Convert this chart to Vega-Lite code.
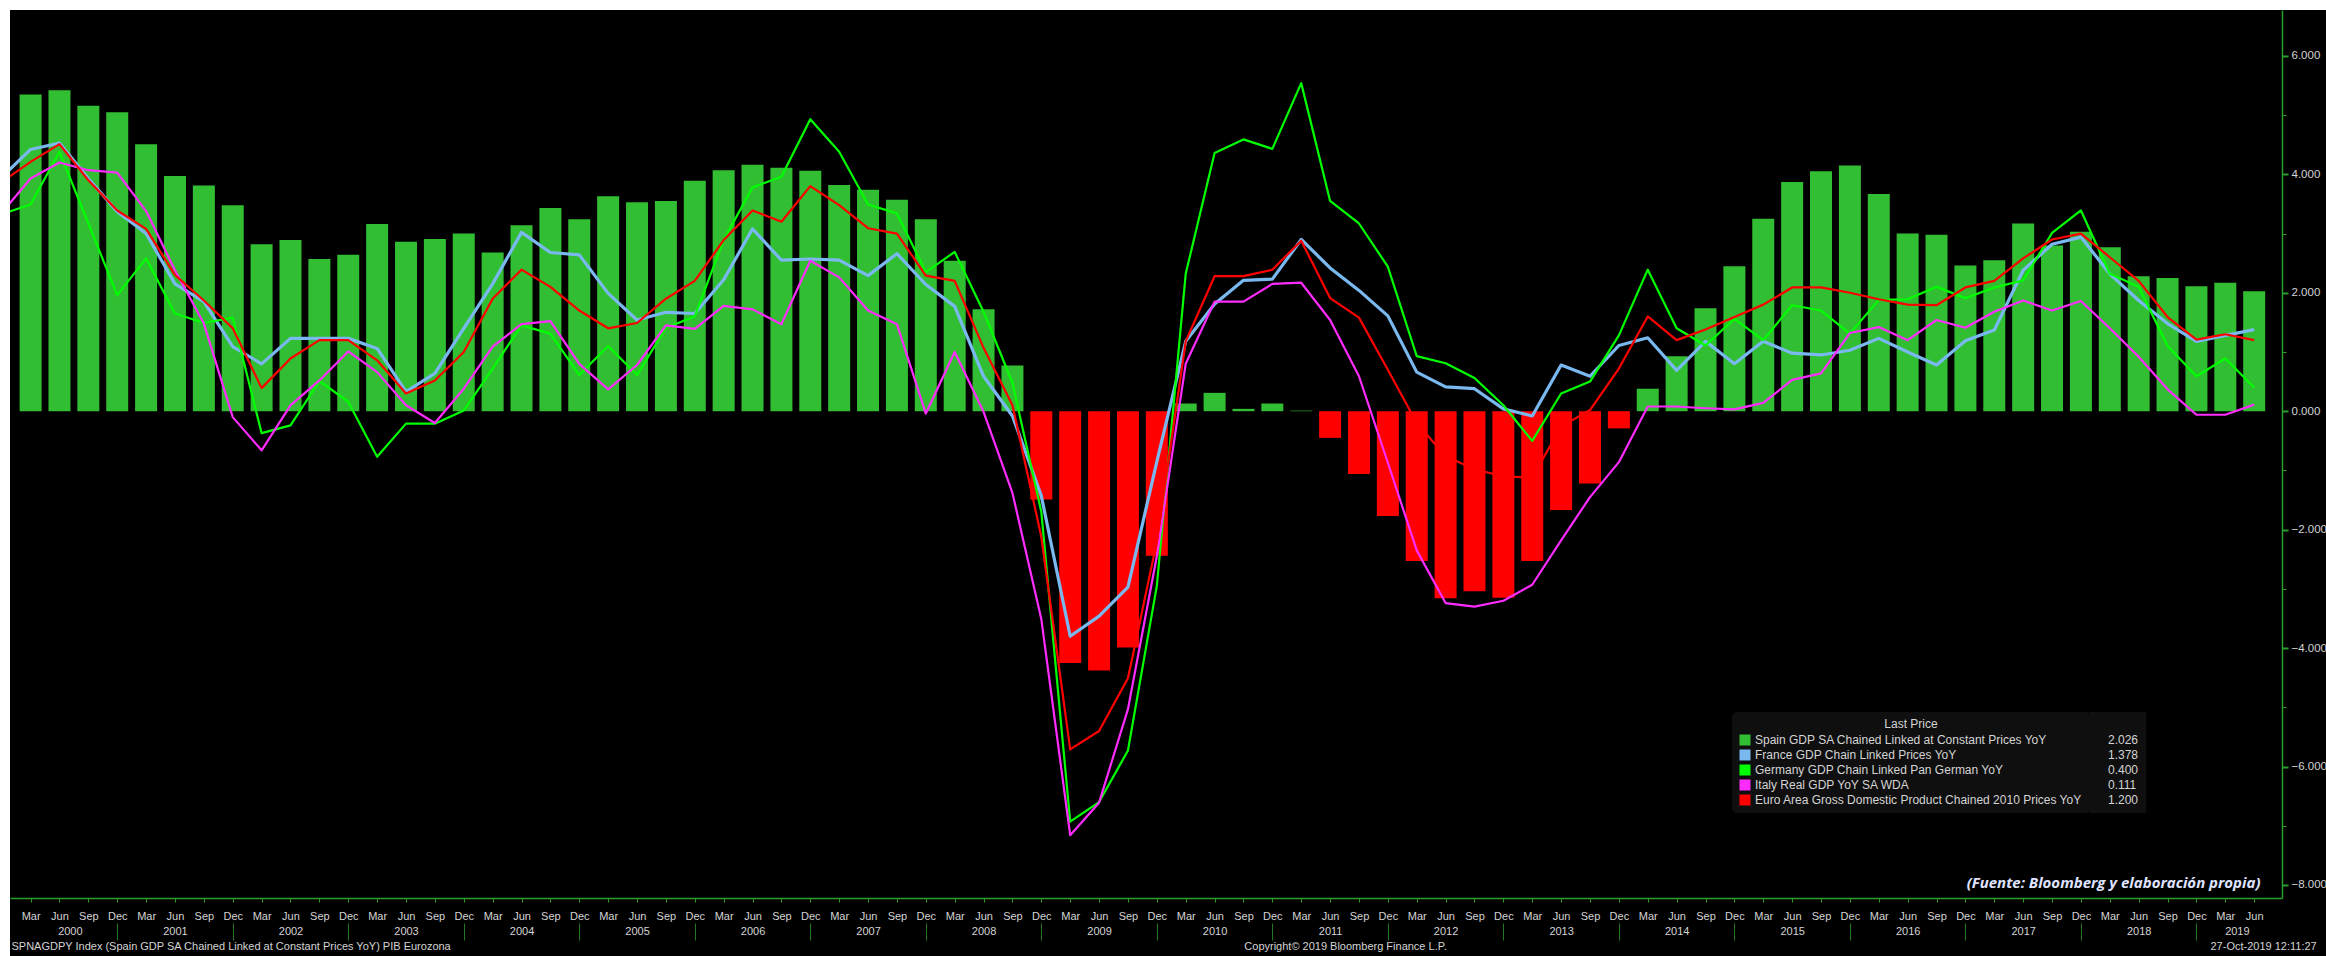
{
  "$schema": "https://vega.github.io/schema/vega-lite/v6.json",
  "width": 2316,
  "height": 946,
  "autosize": {"type": "none"},
  "padding": {"left": 10, "top": 10, "right": 0, "bottom": 0},
  "background": "#ffffff",
  "view": {"fill": "#000000", "stroke": null, "cursor": "default"},
  "config": {
    "view": {"stroke": null},
    "axis": {
      "grid": false,
      "labelFont": "Liberation Sans",
      "titleFont": "Liberation Sans",
      "labelFontSize": 11,
      "titleFontSize": 11,
      "titleFontWeight": "normal",
      "labelColor": "#d4d4d4",
      "titleColor": "#d4d4d4",
      "domainColor": "#2a9d2a",
      "tickColor": "#2a9d2a",
      "labelFlush": false,
      "labelOverlap": false,
      "labelBound": false
    }
  },
  "datasets": {
    "main": [
      {"t": 2000, "fr": 3.95, "de": 3.33, "it": 3.35, "ea": 3.87},
      {"t": 2000.25, "es": 5.35, "fr": 4.42, "de": 3.49, "it": 3.93, "ea": 4.21},
      {"t": 2000.5, "es": 5.42, "fr": 4.53, "de": 4.38, "it": 4.20, "ea": 4.51},
      {"t": 2000.75, "es": 5.16, "fr": 3.93, "de": 3.17, "it": 4.07, "ea": 3.90},
      {"t": 2001, "es": 5.05, "fr": 3.37, "de": 1.96, "it": 4.03, "ea": 3.39},
      {"t": 2001.25, "es": 4.51, "fr": 3.00, "de": 2.58, "it": 3.38, "ea": 3.08},
      {"t": 2001.5, "es": 3.97, "fr": 2.15, "de": 1.65, "it": 2.38, "ea": 2.30},
      {"t": 2001.75, "es": 3.81, "fr": 1.85, "de": 1.49, "it": 1.48, "ea": 1.87},
      {"t": 2002, "es": 3.48, "fr": 1.09, "de": 1.58, "it": -0.10, "ea": 1.40},
      {"t": 2002.25, "es": 2.82, "fr": 0.80, "de": -0.37, "it": -0.66, "ea": 0.39},
      {"t": 2002.5, "es": 2.89, "fr": 1.23, "de": -0.24, "it": 0.10, "ea": 0.89},
      {"t": 2002.75, "es": 2.57, "fr": 1.23, "de": 0.51, "it": 0.52, "ea": 1.20},
      {"t": 2003, "es": 2.64, "fr": 1.23, "de": 0.16, "it": 1.01, "ea": 1.20},
      {"t": 2003.25, "es": 3.16, "fr": 1.06, "de": -0.77, "it": 0.66, "ea": 0.86},
      {"t": 2003.5, "es": 2.86, "fr": 0.33, "de": -0.21, "it": 0.10, "ea": 0.30},
      {"t": 2003.75, "es": 2.91, "fr": 0.64, "de": -0.21, "it": -0.20, "ea": 0.52},
      {"t": 2004, "es": 3.00, "fr": 1.40, "de": 0.01, "it": 0.38, "ea": 1.00},
      {"t": 2004.25, "es": 2.68, "fr": 2.15, "de": 0.72, "it": 1.09, "ea": 1.90},
      {"t": 2004.5, "es": 3.14, "fr": 3.02, "de": 1.45, "it": 1.47, "ea": 2.39},
      {"t": 2004.75, "es": 3.43, "fr": 2.68, "de": 1.31, "it": 1.52, "ea": 2.10},
      {"t": 2005, "es": 3.24, "fr": 2.64, "de": 0.61, "it": 0.80, "ea": 1.70},
      {"t": 2005.25, "es": 3.63, "fr": 1.99, "de": 1.10, "it": 0.37, "ea": 1.40},
      {"t": 2005.5, "es": 3.53, "fr": 1.54, "de": 0.61, "it": 0.78, "ea": 1.49},
      {"t": 2005.75, "es": 3.55, "fr": 1.67, "de": 1.41, "it": 1.45, "ea": 1.90},
      {"t": 2006, "es": 3.89, "fr": 1.65, "de": 1.60, "it": 1.39, "ea": 2.20},
      {"t": 2006.25, "es": 4.07, "fr": 2.22, "de": 2.89, "it": 1.78, "ea": 2.89},
      {"t": 2006.5, "es": 4.16, "fr": 3.08, "de": 3.78, "it": 1.72, "ea": 3.39},
      {"t": 2006.75, "es": 4.11, "fr": 2.55, "de": 3.96, "it": 1.47, "ea": 3.20},
      {"t": 2007, "es": 4.06, "fr": 2.57, "de": 4.93, "it": 2.54, "ea": 3.80},
      {"t": 2007.25, "es": 3.82, "fr": 2.55, "de": 4.38, "it": 2.26, "ea": 3.48},
      {"t": 2007.5, "es": 3.74, "fr": 2.29, "de": 3.49, "it": 1.70, "ea": 3.09},
      {"t": 2007.75, "es": 3.57, "fr": 2.66, "de": 3.34, "it": 1.47, "ea": 3.00},
      {"t": 2008, "es": 3.24, "fr": 2.14, "de": 2.35, "it": -0.04, "ea": 2.29},
      {"t": 2008.25, "es": 2.54, "fr": 1.77, "de": 2.69, "it": 1.00, "ea": 2.20},
      {"t": 2008.5, "es": 1.72, "fr": 0.59, "de": 1.68, "it": -0.01, "ea": 1.07},
      {"t": 2008.75, "es": 0.77, "fr": -0.08, "de": 0.48, "it": -1.38, "ea": 0.10},
      {"t": 2009, "es": -1.49, "fr": -1.43, "de": -1.70, "it": -3.51, "ea": -2.12},
      {"t": 2009.25, "es": -4.25, "fr": -3.80, "de": -6.93, "it": -7.16, "ea": -5.71},
      {"t": 2009.5, "es": -4.38, "fr": -3.46, "de": -6.60, "it": -6.61, "ea": -5.40},
      {"t": 2009.75, "es": -3.99, "fr": -2.97, "de": -5.73, "it": -5.03, "ea": -4.51},
      {"t": 2010, "es": -2.44, "fr": -0.85, "de": -2.95, "it": -2.45, "ea": -2.20},
      {"t": 2010.25, "es": 0.13, "fr": 1.18, "de": 2.32, "it": 0.80, "ea": 1.18},
      {"t": 2010.5, "es": 0.31, "fr": 1.81, "de": 4.36, "it": 1.85, "ea": 2.28},
      {"t": 2010.75, "es": 0.04, "fr": 2.21, "de": 4.59, "it": 1.85, "ea": 2.28},
      {"t": 2011, "es": 0.13, "fr": 2.23, "de": 4.43, "it": 2.15, "ea": 2.39},
      {"t": 2011.25, "es": 0.01, "fr": 2.90, "de": 5.54, "it": 2.17, "ea": 2.88},
      {"t": 2011.5, "es": -0.45, "fr": 2.42, "de": 3.55, "it": 1.54, "ea": 1.91},
      {"t": 2011.75, "es": -1.06, "fr": 2.04, "de": 3.17, "it": 0.59, "ea": 1.58},
      {"t": 2012, "es": -1.77, "fr": 1.61, "de": 2.44, "it": -0.87, "ea": 0.70},
      {"t": 2012.25, "es": -2.53, "fr": 0.66, "de": 0.93, "it": -2.35, "ea": -0.20},
      {"t": 2012.5, "es": -3.16, "fr": 0.41, "de": 0.81, "it": -3.24, "ea": -0.76},
      {"t": 2012.75, "es": -3.04, "fr": 0.38, "de": 0.56, "it": -3.30, "ea": -0.98},
      {"t": 2013, "es": -3.15, "fr": 0.04, "de": 0.10, "it": -3.20, "ea": -1.10},
      {"t": 2013.25, "es": -2.53, "fr": -0.08, "de": -0.50, "it": -2.93, "ea": -1.12},
      {"t": 2013.5, "es": -1.67, "fr": 0.78, "de": 0.30, "it": -2.18, "ea": -0.26},
      {"t": 2013.75, "es": -1.22, "fr": 0.59, "de": 0.50, "it": -1.45, "ea": 0.02},
      {"t": 2014, "es": -0.29, "fr": 1.11, "de": 1.28, "it": -0.86, "ea": 0.72},
      {"t": 2014.25, "es": 0.38, "fr": 1.24, "de": 2.39, "it": 0.08, "ea": 1.60},
      {"t": 2014.5, "es": 0.93, "fr": 0.69, "de": 1.40, "it": 0.08, "ea": 1.20},
      {"t": 2014.75, "es": 1.74, "fr": 1.18, "de": 1.11, "it": 0.05, "ea": 1.38},
      {"t": 2015, "es": 2.45, "fr": 0.80, "de": 1.56, "it": 0.03, "ea": 1.59},
      {"t": 2015.25, "es": 3.25, "fr": 1.18, "de": 1.20, "it": 0.14, "ea": 1.80},
      {"t": 2015.5, "es": 3.87, "fr": 0.98, "de": 1.79, "it": 0.53, "ea": 2.09},
      {"t": 2015.75, "es": 4.05, "fr": 0.95, "de": 1.70, "it": 0.64, "ea": 2.09},
      {"t": 2016, "es": 4.15, "fr": 1.03, "de": 1.31, "it": 1.32, "ea": 2.00},
      {"t": 2016.25, "es": 3.67, "fr": 1.23, "de": 1.88, "it": 1.42, "ea": 1.89},
      {"t": 2016.5, "es": 3.00, "fr": 1.00, "de": 1.89, "it": 1.20, "ea": 1.80},
      {"t": 2016.75, "es": 2.98, "fr": 0.78, "de": 2.10, "it": 1.54, "ea": 1.79},
      {"t": 2017, "es": 2.46, "fr": 1.19, "de": 1.91, "it": 1.41, "ea": 2.09},
      {"t": 2017.25, "es": 2.55, "fr": 1.37, "de": 2.09, "it": 1.68, "ea": 2.20},
      {"t": 2017.5, "es": 3.17, "fr": 2.38, "de": 2.21, "it": 1.87, "ea": 2.58},
      {"t": 2017.75, "es": 2.80, "fr": 2.82, "de": 3.01, "it": 1.70, "ea": 2.90},
      {"t": 2018, "es": 3.03, "fr": 2.94, "de": 3.39, "it": 1.86, "ea": 3.00},
      {"t": 2018.25, "es": 2.77, "fr": 2.32, "de": 2.32, "it": 1.40, "ea": 2.60},
      {"t": 2018.5, "es": 2.28, "fr": 1.87, "de": 2.10, "it": 0.92, "ea": 2.20},
      {"t": 2018.75, "es": 2.25, "fr": 1.48, "de": 1.10, "it": 0.37, "ea": 1.59},
      {"t": 2019, "es": 2.11, "fr": 1.18, "de": 0.59, "it": -0.06, "ea": 1.21},
      {"t": 2019.25, "es": 2.17, "fr": 1.28, "de": 0.89, "it": -0.06, "ea": 1.30},
      {"t": 2019.5, "es": 2.026, "fr": 1.378, "de": 0.400, "it": 0.111, "ea": 1.200}
    ],
    "last": [
      {"last": "2.026"},
      {"last": "1.378"},
      {"last": "0.400"},
      {"last": "0.111"},
      {"last": "1.200"}
    ]
  },
  "data": {"name": "main"},
  "layer": [
    {
      "transform": [{"filter": "isValid(datum.es)"}],
      "mark": {"type": "bar", "width": 22},
      "encoding": {
        "x": {
          "field": "t", "type": "quantitative",
          "scale": {"domain": [2000.115, 2019.6975], "range": [0, 2272], "nice": false, "zero": false},
          "axis": {
            "orient": "bottom", "offset": -58,
            "values": [2000.25,2000.5,2000.75,2001,2001.25,2001.5,2001.75,2002,2002.25,2002.5,2002.75,2003,2003.25,2003.5,2003.75,2004,2004.25,2004.5,2004.75,2005,2005.25,2005.5,2005.75,2006,2006.25,2006.5,2006.75,2007,2007.25,2007.5,2007.75,2008,2008.25,2008.5,2008.75,2009,2009.25,2009.5,2009.75,2010,2010.25,2010.5,2010.75,2011,2011.25,2011.5,2011.75,2012,2012.25,2012.5,2012.75,2013,2013.25,2013.5,2013.75,2014,2014.25,2014.5,2014.75,2015,2015.25,2015.5,2015.75,2016,2016.25,2016.5,2016.75,2017,2017.25,2017.5,2017.75,2018,2018.25,2018.5,2018.75,2019,2019.25,2019.5],
            "labelExpr": "['Dec','Mar','Jun','Sep'][round(datum.value*4) % 4]",
            "tickSize": 4, "labelPadding": 8, "domainWidth": 1.5,
            "title": "SPNAGDPY Index (Spain GDP SA Chained Linked at Constant Prices YoY) PIB Eurozona",
            "titleX": 1, "titleY": 48, "titleAlign": "left", "titleBaseline": "middle", "titleAnchor": "start"
          }
        },
        "y": {
          "field": "es", "type": "quantitative",
          "scale": {"domain": [-8.22, 6.775], "range": [888, 0], "nice": false, "zero": false},
          "axis": {
            "orient": "right", "offset": -44,
            "values": [-8, -6, -4, -2, 0, 2, 4, 6],
            "format": ".3f", "tickSize": 6, "tickWidth": 2, "labelPadding": 3,
            "labelFontSize": 11.5, "domainWidth": 1.5, "title": null
          }
        },
        "y2": {"datum": 0},
        "color": {"condition": {"test": "datum.es < 0", "value": "#ff0000"}, "value": "#32be32"}
      }
    },
    {
      "transform": [{"fold": ["fr"], "as": ["series", "v"]}],
      "mark": {"type": "line", "clip": true, "strokeWidth": 3.2, "strokeJoin": "round"},
      "encoding": {
        "x": {
          "field": "t", "type": "quantitative",
          "scale": {"domain": [2000.115, 2019.6975], "range": [0, 2272], "nice": false, "zero": false},
          "axis": {
            "orient": "bottom", "offset": -58,
            "values": [2000.59,2001.5,2002.5,2003.5,2004.5,2005.5,2006.5,2007.5,2008.5,2009.5,2010.5,2011.5,2012.5,2013.5,2014.5,2015.5,2016.5,2017.5,2018.5,2019.35],
            "labelExpr": "'' + floor(datum.value)",
            "ticks": false, "tickSize": 0, "domain": false, "labelPadding": 27,
            "title": "Copyright© 2019 Bloomberg Finance L.P.",
            "titleX": 1335, "titleY": 48, "titleAlign": "center", "titleBaseline": "middle"
          }
        },
        "y": {
          "field": "v", "type": "quantitative",
          "scale": {"domain": [-8.22, 6.775], "range": [888, 0], "nice": false, "zero": false},
          "axis": {
            "orient": "right", "offset": -44,
            "values": [-7, -5, -3, -1, 1, 3, 5],
            "labels": false, "tickSize": 4, "tickWidth": 1, "domain": false,
            "title": "(Fuente: Bloomberg y elaboración propia)",
            "titleX": -22, "titleY": 872, "titleAngle": 0, "titleAlign": "right", "titleBaseline": "middle",
            "titleFont": "Open Sans", "titleFontStyle": "italic", "titleFontWeight": "bold",
            "titleFontSize": 15, "titleColor": "#dfe3ff"
          }
        },
        "color": {
          "field": "series", "type": "nominal",
          "scale": {"domain": ["es", "fr", "de", "it", "ea"], "range": ["#32be32", "#7ab9f0", "#00ff00", "#ff2cff", "#ff0000"]},
          "legend": {
            "orient": "none", "legendX": 1722, "legendY": 702, "direction": "vertical",
            "title": "\u00a0\u00a0\u00a0\u00a0\u00a0\u00a0\u00a0\u00a0\u00a0\u00a0\u00a0\u00a0Last Price",
            "titleAnchor": "middle", "titleColor": "#d4d4d4", "titleFont": "Liberation Sans", "titleFontSize": 12, "titleFontWeight": "normal", "titlePadding": 3,
            "fillColor": "#0f0f0f", "cornerRadius": 5, "padding": 7,
            "symbolType": "square", "symbolSize": 121, "symbolStrokeWidth": 0,
            "labelExpr": "datum.label == 'es' ? 'Spain GDP SA Chained Linked at Constant Prices YoY' : datum.label == 'fr' ? 'France GDP Chain Linked Prices YoY' : datum.label == 'de' ? 'Germany GDP Chain Linked Pan German YoY' : datum.label == 'it' ? 'Italy Real GDP YoY SA WDA' : 'Euro Area Gross Domestic Product Chained 2010 Prices YoY'",
            "labelFont": "Liberation Sans", "labelFontSize": 12, "labelColor": "#d4d4d4", "labelLimit": 500, "labelOffset": 4, "rowPadding": 3,
            "encode": {"symbols": {"update": {"fill": {"scale": "color", "field": "value"}, "stroke": {"value": "transparent"}, "strokeWidth": {"value": 0}, "opacity": {"value": 1}}}}
          }
        }
      }
    },
    {
      "transform": [{"fold": ["de", "it", "ea"], "as": ["series", "v"]}],
      "mark": {"type": "line", "clip": true, "strokeWidth": 2.2, "strokeJoin": "round"},
      "encoding": {
        "x": {
          "field": "t", "type": "quantitative",
          "scale": {"domain": [2000.115, 2019.6975], "range": [0, 2272], "nice": false, "zero": false},
          "axis": {
            "orient": "bottom", "offset": -33,
            "values": [2001,2002,2003,2004,2005,2006,2007,2008,2009,2010,2011,2012,2013,2014,2015,2016,2017,2018,2019],
            "labels": false, "domain": false, "tickSize": 17, "tickColor": "#1f7a1f",
            "title": "27-Oct-2019 12:11:27",
            "titleX": 2200, "titleY": 23, "titleAlign": "left", "titleBaseline": "middle"
          }
        },
        "y": {
          "field": "v", "type": "quantitative",
          "scale": {"domain": [-8.22, 6.775], "range": [888, 0], "nice": false, "zero": false},
          "axis": null
        },
        "color": {
          "field": "series", "type": "nominal",
          "scale": {"domain": ["es", "fr", "de", "it", "ea"], "range": ["#32be32", "#7ab9f0", "#00ff00", "#ff2cff", "#ff0000"]},
          "legend": {
            "orient": "none", "legendX": 1722, "legendY": 702, "direction": "vertical",
            "title": "\u00a0\u00a0\u00a0\u00a0\u00a0\u00a0\u00a0\u00a0\u00a0\u00a0\u00a0\u00a0Last Price",
            "titleAnchor": "middle", "titleColor": "#d4d4d4", "titleFont": "Liberation Sans", "titleFontSize": 12, "titleFontWeight": "normal", "titlePadding": 3,
            "fillColor": "#0f0f0f", "cornerRadius": 5, "padding": 7,
            "symbolType": "square", "symbolSize": 121, "symbolStrokeWidth": 0,
            "labelExpr": "datum.label == 'es' ? 'Spain GDP SA Chained Linked at Constant Prices YoY' : datum.label == 'fr' ? 'France GDP Chain Linked Prices YoY' : datum.label == 'de' ? 'Germany GDP Chain Linked Pan German YoY' : datum.label == 'it' ? 'Italy Real GDP YoY SA WDA' : 'Euro Area Gross Domestic Product Chained 2010 Prices YoY'",
            "labelFont": "Liberation Sans", "labelFontSize": 12, "labelColor": "#d4d4d4", "labelLimit": 500, "labelOffset": 4, "rowPadding": 3,
            "encode": {"symbols": {"update": {"fill": {"scale": "color", "field": "value"}, "stroke": {"value": "transparent"}, "strokeWidth": {"value": 0}, "opacity": {"value": 1}}}}
          }
        }
      }
    },
    {
      "data": {"name": "last"},
      "mark": {"type": "point", "size": 0, "opacity": 0},
      "encoding": {
        "shape": {
          "field": "last", "type": "nominal",
          "scale": {"domain": ["2.026", "1.378", "0.400", "0.111", "1.200"]},
          "legend": {
            "orient": "none", "legendX": 2079, "legendY": 702, "direction": "vertical",
            "title": "\u00a0",
            "titleColor": "#d4d4d4", "titleFont": "Liberation Sans", "titleFontSize": 12, "titleFontWeight": "normal", "titlePadding": 3,
            "fillColor": "#0f0f0f", "cornerRadius": 0, "padding": 7,
            "symbolSize": 0, "symbolOpacity": 0, "symbolStrokeWidth": 0,
            "labelFont": "Liberation Sans", "labelFontSize": 12, "labelColor": "#d4d4d4", "labelOffset": 0, "rowPadding": 3
          }
        }
      }
    }
  ],
  "resolve": {"axis": {"x": "independent", "y": "independent"}}
}
